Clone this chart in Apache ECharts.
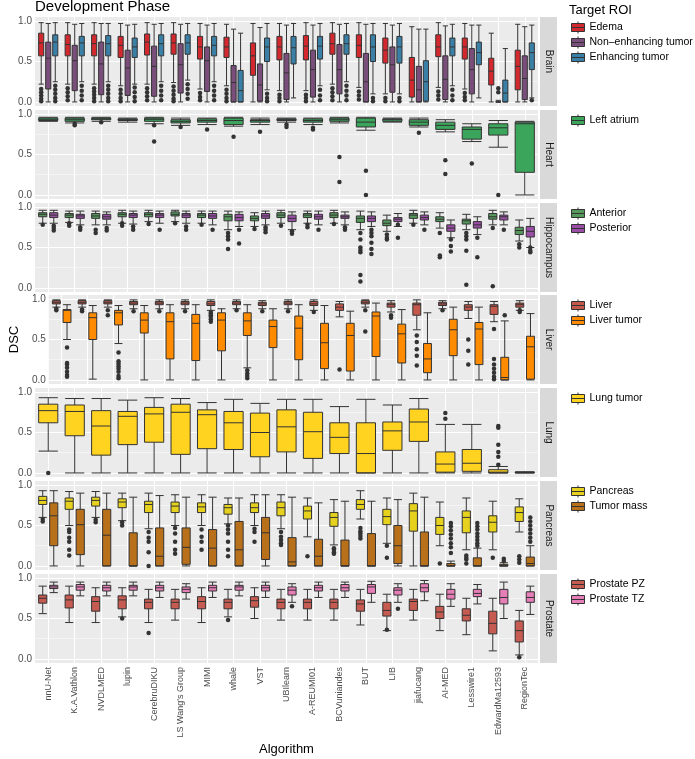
<!DOCTYPE html>
<html>
<head>
<meta charset="utf-8">
<script src="https://cdn.jsdelivr.net/npm/echarts@6/dist/echarts.min.js"></script>
<style>
  html, body { margin: 0; padding: 0; background: #fff; }
  #main { width: 695px; height: 759px; }
</style>
</head>
<body>
<div id="main"></div>
<script>
// algorithms on the x axis
const algorithms = ['nnU-Net', 'K.A.Vathlon', 'NVDLMED', 'lupin', 'CerebruDIKU', "LS Wang's Group", 'MIMI', 'whale', 'VST',
  'UBIlearn', 'A-REUMI01', 'BCVuniandes', 'BUT', 'LIB', 'jiafucang', 'AI-MED', 'Lesswire1', 'EdwardMa12593', 'RegionTec'];
const yTicks = [0, 0.5, 1];
const yMinorTicks = [0.25, 0.75];

// boxes: [lower whisker, Q1, median, Q3, upper whisker] per algorithm
// outliers: [algorithm index, value]

// Brain
const edema = [[0.22,0.57,0.73,0.85,0.98],[0.22,0.57,0.71,0.83,0.98],[0.22,0.57,0.72,0.83,0.98],[0.2,0.55,0.70,0.81,0.97],
  [0.22,0.58,0.74,0.84,0.98],[0.24,0.59,0.73,0.84,0.98],[0.16,0.53,0.68,0.81,0.97],[0.2,0.55,0.68,0.80,0.96],
  [0,0.33,0.57,0.73,0.97],[0.14,0.52,0.68,0.81,0.97],[0.14,0.52,0.69,0.82,0.98],[0.22,0.59,0.72,0.85,0.98],
  [0.18,0.55,0.70,0.83,0.98],[0.1,0.48,0.64,0.79,0.97],[0,0.06,0.27,0.55,0.93],[0.18,0.56,0.68,0.83,0.98],
  [0.16,0.53,0.68,0.79,0.97],[0,0.21,0.38,0.54,0.85],[0,0.15,0.44,0.64,0.96]];
const nonEnhancing = [[0,0.16,0.54,0.74,0.97],[0,0.14,0.51,0.70,0.96],[0,0.09,0.47,0.74,0.97],[0,0.08,0.42,0.64,0.95],
  [0,0.07,0.44,0.69,0.96],[0,0.11,0.46,0.72,0.96],[0,0.13,0.51,0.68,0.95],[0,0,0.24,0.45,0.9],
  [0,0.01,0.21,0.47,0.92],[0,0.03,0.36,0.60,0.95],[0,0.06,0.40,0.64,0.95],[0,0.10,0.40,0.71,0.96],
  [0,0,0.25,0.60,0.96],[0,0.12,0.46,0.68,0.95],[0,0,0.15,0.44,0.9],[0,0.03,0.28,0.57,0.94],
  [0,0.10,0.40,0.66,0.95],[0,0,0,0,0.02],[0,0.03,0.29,0.57,0.93]];
const enhancing = [[0.25,0.57,0.74,0.83,0.98],[0.25,0.57,0.73,0.81,0.97],[0.25,0.57,0.72,0.82,0.97],[0.22,0.55,0.68,0.79,0.96],
  [0.25,0.57,0.72,0.83,0.97],[0.27,0.59,0.73,0.83,0.97],[0.25,0.57,0.70,0.81,0.97],[0,0,0.14,0.39,0.85],
  [0.15,0.50,0.68,0.79,0.97],[0.05,0.47,0.67,0.81,0.97],[0.2,0.53,0.69,0.81,0.97],[0.25,0.59,0.72,0.83,0.97],
  [0.1,0.50,0.68,0.83,0.97],[0.1,0.48,0.68,0.81,0.97],[0,0.01,0.25,0.51,0.9],[0.2,0.57,0.68,0.79,0.96],
  [0.05,0.46,0.61,0.74,0.95],[0,0,0.11,0.27,0.66],[0.05,0.40,0.61,0.73,0.95]];
const edemaOut = [[0,0.16],[0,0.12],[0,0.08],[0,0.04],[0,0.01],[1,0.17],[1,0.12],[1,0.07],[1,0.02],[2,0.17],[2,0.13],[2,0.09],
  [2,0.05],[2,0.01],[3,0.15],[3,0.1],[3,0.05],[3,0.01],[4,0.17],[4,0.12],[4,0.07],[4,0.02],[5,0.19],[5,0.14],[5,0.09],
  [5,0.04],[5,0.01],[6,0.11],[6,0.06],[6,0.02],[7,0.15],[7,0.1],[7,0.05],[7,0.01],[9,0.09],[9,0.05],[9,0.01],[10,0.09],
  [10,0.05],[10,0.01],[11,0.17],[11,0.12],[11,0.07],[11,0.02],[12,0.13],[12,0.08],[12,0.03],[13,0.05],[13,0.01],
  [15,0.13],[15,0.08],[15,0.03],[16,0.11],[16,0.06],[16,0.02]];
const nonEnhancingOut = [[17,0.17],[17,0.12]];
const enhancingOut = [[0,0.2],[0,0.15],[0,0.1],[0,0.05],[0,0.01],[1,0.2],[1,0.14],[1,0.08],[1,0.02],[2,0.2],[2,0.15],[2,0.1],
  [2,0.05],[2,0.01],[3,0.18],[3,0.12],[3,0.06],[3,0.01],[4,0.2],[4,0.14],[4,0.08],[4,0.02],[5,0.22],[5,0.16],[5,0.1],
  [5,0.04],[6,0.2],[6,0.14],[6,0.08],[6,0.02],[8,0.1],[8,0.05],[8,0.01],[10,0.15],[10,0.08],[10,0.02],[11,0.2],[11,0.14],
  [11,0.08],[11,0.02],[12,0.05],[12,0.01],[13,0.05],[13,0.01],[15,0.15],[15,0.08],[15,0.02],[18,0.02]];

// Heart
const leftAtrium = [[0.91,0.92,0.93,0.95,0.96],[0.89,0.91,0.93,0.95,0.96],[0.91,0.93,0.94,0.95,0.96],[0.9,0.92,0.93,0.94,0.95],
  [0.88,0.91,0.935,0.95,0.96],[0.86,0.89,0.91,0.93,0.95],[0.87,0.90,0.92,0.94,0.95],[0.85,0.87,0.92,0.95,0.96],
  [0.87,0.90,0.92,0.93,0.95],[0.9,0.92,0.93,0.94,0.95],[0.87,0.90,0.92,0.94,0.95],[0.89,0.91,0.93,0.95,0.96],
  [0.8,0.84,0.90,0.95,0.96],[0.9,0.91,0.93,0.94,0.95],[0.84,0.86,0.90,0.93,0.95],[0.78,0.81,0.86,0.90,0.93],
  [0.66,0.69,0.81,0.84,0.88],[0.59,0.74,0.83,0.88,0.92],[0,0.28,0.88,0.90,0.91]];
const leftAtriumOut = [[1,0.88],[1,0.86],[2,0.9],[4,0.86],[4,0.66],[5,0.84],[6,0.81],[7,0.72],[8,0.78],[9,0.87],[9,0.84],
  [10,0.83],[10,0.81],[11,0.47],[11,0.16],[12,0.3],[12,0],[14,0.77],[15,0.43],[15,0.26],[16,0.39],[17,0]];

// Hippocampus
const anterior = [[0.8,0.88,0.91,0.93,0.96],[0.81,0.87,0.90,0.92,0.95],[0.78,0.86,0.89,0.92,0.95],[0.8,0.88,0.91,0.93,0.96],
  [0.82,0.88,0.91,0.93,0.96],[0.82,0.89,0.91,0.94,0.96],[0.8,0.87,0.90,0.92,0.95],[0.72,0.83,0.88,0.91,0.95],
  [0.76,0.83,0.86,0.89,0.93],[0.8,0.87,0.90,0.93,0.96],[0.8,0.87,0.90,0.92,0.95],[0.8,0.87,0.90,0.93,0.96],
  [0.72,0.81,0.86,0.89,0.95],[0.7,0.77,0.80,0.84,0.9],[0.8,0.86,0.90,0.92,0.96],[0.74,0.82,0.85,0.88,0.93],
  [0.72,0.79,0.83,0.85,0.91],[0.78,0.85,0.88,0.92,0.96],[0.58,0.66,0.71,0.75,0.84]];
const posterior = [[0.8,0.87,0.90,0.93,0.96],[0.78,0.86,0.89,0.91,0.95],[0.78,0.85,0.88,0.91,0.94],[0.79,0.87,0.90,0.92,0.95],
  [0.8,0.87,0.90,0.92,0.95],[0.8,0.87,0.90,0.92,0.95],[0.78,0.86,0.89,0.92,0.95],[0.76,0.83,0.87,0.91,0.94],
  [0.78,0.86,0.89,0.92,0.95],[0.72,0.82,0.86,0.90,0.94],[0.78,0.85,0.88,0.91,0.95],[0.78,0.86,0.88,0.90,0.94],
  [0.76,0.82,0.86,0.89,0.94],[0.76,0.82,0.85,0.87,0.92],[0.78,0.84,0.87,0.90,0.94],[0.62,0.70,0.74,0.78,0.84],
  [0.66,0.74,0.78,0.82,0.88],[0.78,0.84,0.88,0.90,0.94],[0.5,0.63,0.70,0.76,0.86]];
const anteriorOut = [[0,0.78],[1,0.8],[1,0.77],[2,0.72],[2,0.68],[3,0.8],[3,0.77],[4,0.79],[5,0.8],[6,0.78],[7,0.68],[7,0.64],
  [7,0.6],[7,0.48],[8,0.73],[9,0.77],[10,0.78],[10,0.75],[11,0.79],[12,0.68],[12,0.6],[12,0.5],[12,0.47],[12,0.44],
  [12,0.16],[12,0.08],[13,0.66],[13,0.62],[13,0.6],[14,0.78],[15,0.68],[15,0.4],[15,0.38],[16,0.68],[16,0.64],[16,0.6],
  [16,0.46],[16,0.04],[17,0.74],[17,0.02],[18,0.54],[18,0.5]];
const posteriorOut = [[0,0.77],[0,0.74],[0,0.71],[1,0.75],[1,0.72],[2,0.74],[2,0.71],[3,0.76],[3,0.72],[4,0.72],[5,0.76],
  [5,0.72],[6,0.72],[7,0.72],[7,0.55],[8,0.75],[8,0.72],[8,0.69],[9,0.7],[9,0.67],[10,0.72],[11,0.75],[11,0.72],[12,0.72],
  [12,0.68],[12,0.64],[12,0.56],[12,0.48],[12,0.42],[13,0.78],[13,0.62],[14,0.72],[15,0.6],[15,0.52],[15,0.45],
  [16,0.62],[16,0.38],[17,0.72],[18,0.5],[18,0.46],[18,0.44]];

// Liver
const liver = [[0.9,0.94,0.96,0.98,0.99],[0.9,0.94,0.96,0.98,0.99],[0.9,0.94,0.96,0.98,0.99],[0.88,0.93,0.95,0.97,0.99],
  [0.88,0.93,0.95,0.97,0.99],[0.88,0.93,0.95,0.97,0.99],[0.86,0.92,0.94,0.97,0.99],[0.88,0.93,0.95,0.97,0.99],
  [0.88,0.92,0.94,0.96,0.98],[0.88,0.93,0.95,0.97,0.99],[0.86,0.92,0.94,0.97,0.99],[0.78,0.86,0.90,0.94,0.97],
  [0.9,0.94,0.96,0.98,0.99],[0.84,0.90,0.93,0.95,0.98],[0.62,0.80,0.93,0.95,0.99],[0.88,0.92,0.94,0.96,0.98],
  [0.76,0.86,0.90,0.93,0.97],[0.72,0.81,0.91,0.93,0.97],[0.86,0.90,0.93,0.95,0.98]];
const liverTumor = [[0.5,0.71,0.86,0.87,0.93],[0.01,0.50,0.77,0.83,0.92],[0.45,0.68,0.83,0.86,0.92],[0,0.58,0.74,0.83,0.92],
  [0,0.26,0.72,0.83,0.93],[0,0.24,0.70,0.81,0.93],[0,0.36,0.74,0.83,0.88],[0.15,0.55,0.73,0.83,0.93],
  [0,0.40,0.66,0.74,0.88],[0,0.25,0.64,0.79,0.93],[0,0.14,0.46,0.70,0.92],[0,0.11,0.55,0.70,0.85],
  [0,0.29,0.79,0.84,0.95],[0,0.21,0.57,0.69,0.87],[0,0.09,0.26,0.45,0.83],[0,0.30,0.62,0.75,0.90],
  [0,0.19,0.63,0.71,0.90],[0,0,0.03,0.28,0.73],[0,0.01,0.41,0.54,0.82]];
const liverOut = [[0,0.88],[0,0.86],[1,0.87],[1,0.85],[2,0.86],[2,0.8],[3,0.85],[4,0.85],[5,0.85],[6,0.84],[6,0.82],[6,0.8],
  [6,0.78],[6,0.75],[6,0.72],[7,0.86],[8,0.85],[9,0.85],[10,0.84],[11,0.13],[12,0.86],[12,0.6],[13,0.8],[13,0.77],
  [14,0.55],[14,0.47],[14,0.38],[14,0.3],[14,0.18],[15,0.86],[16,0.5],[16,0.36],[16,0.19],[17,0.63],[17,0.26],[17,0.19],
  [17,0.14],[17,0.09],[17,0.04],[17,0.01],[18,0.86],[18,0.84]];
const liverTumorOut = [[0,0.4],[0,0.21],[0,0.19],[0,0.15],[0,0.1],[0,0.06],[0,0.04],[2,0.34],[2,0.23],[2,0.2],[2,0.17],
  [2,0.14],[2,0.1],[2,0.05],[2,0.02],[7,0.12],[7,0.08],[7,0.05],[7,0.02],[17,0.8]];

// Lung
const lungTumor = [[0.27,0.62,0.77,0.85,0.93],[0,0.46,0.76,0.84,0.92],[0,0.22,0.58,0.77,0.92],[0,0.35,0.70,0.76,0.90],
  [0,0.38,0.73,0.81,0.93],[0,0.23,0.75,0.85,0.92],[0,0.30,0.72,0.78,0.87],[0,0.29,0.62,0.76,0.91],
  [0,0.20,0.50,0.74,0.86],[0,0.26,0.57,0.78,0.91],[0,0.18,0.51,0.75,0.91],[0,0.24,0.44,0.62,0.82],
  [0,0,0.24,0.62,0.91],[0,0.28,0.52,0.63,0.84],[0,0.39,0.63,0.79,0.92],[0,0.01,0.11,0.26,0.6],
  [0,0.02,0.12,0.29,0.6],[0,0,0.01,0.04,0.08],[0,0,0.005,0.01,0.015]];
const lungTumorOut = [[0,0],[15,0.74],[15,0.67],[17,0.58],[17,0.56],[17,0.35],[17,0.26],[17,0.2],[17,0.1]];

// Pancreas
const pancreas = [[0.6,0.76,0.81,0.86,0.93],[0.5,0.70,0.80,0.84,0.92],[0.6,0.74,0.81,0.85,0.92],[0.56,0.72,0.79,0.83,0.9],
  [0.46,0.66,0.76,0.80,0.9],[0.5,0.66,0.74,0.79,0.88],[0.5,0.66,0.73,0.78,0.88],[0.52,0.64,0.72,0.76,0.84],
  [0.5,0.66,0.72,0.78,0.88],[0.46,0.62,0.72,0.79,0.88],[0.36,0.58,0.68,0.74,0.84],[0.26,0.49,0.60,0.66,0.82],
  [0.58,0.70,0.76,0.82,0.93],[0.28,0.51,0.61,0.70,0.84],[0,0.43,0.68,0.77,0.9],[0.25,0.39,0.50,0.60,0.79],
  [0.2,0.41,0.60,0.68,0.84],[0.2,0.42,0.54,0.62,0.8],[0.42,0.55,0.66,0.73,0.83]];
const tumorMass = [[0,0.25,0.62,0.78,0.93],[0,0.14,0.51,0.70,0.9],[0,0,0.38,0.70,0.9],[0,0,0,0.41,0.85],
  [0,0,0.12,0.47,0.87],[0,0.02,0.23,0.47,0.85],[0,0,0.22,0.45,0.85],[0,0,0.2,0.55,0.84],
  [0,0.08,0.41,0.6,0.88],[0,0,0.05,0.35,0.85],[0,0,0.12,0.33,0.78],[0,0,0,0.32,0.8],
  [0,0,0,0.4,0.8],[0,0.03,0.25,0.5,0.82],[0,0,0,0.42,0.85],[0,0,0,0.03,0.06],
  [0,0,0,0.1,0.22],[0,0,0,0.02,0.04],[0,0,0.03,0.11,0.25]];
const pancreasOut = [[0,0.58],[0,0.55],[1,0.45],[1,0.42],[1,0.35],[1,0.3],[1,0.2],[1,0.13],[2,0.57],[2,0.54],[3,0.54],[3,0.5],
  [4,0.42],[4,0.35],[4,0.3],[4,0.17],[4,0],[5,0.47],[5,0.4],[5,0.3],[5,0.2],[5,0.15],[6,0.45],[6,0.36],[6,0.3],[6,0.2],
  [7,0.5],[7,0.45],[7,0.4],[7,0.3],[7,0.2],[7,0.12],[8,0.46],[8,0.42],[8,0.3],[9,0.42],[9,0.36],[9,0.32],[9,0.28],
  [9,0.26],[10,0.12],[11,0.22],[11,0.2],[11,0.17],[11,0.15],[12,0.47],[12,0.43],[12,0.4],[12,0.37],[12,0.34],[13,0.25],
  [13,0.1],[15,0.03],[16,0.13],[16,0.1],[16,0.08],[16,0.03],[17,0.1],[18,0.12],[18,0.08],[18,0.04]];
const tumorMassOut = [[15,0.53],[15,0.49],[15,0.44],[15,0.39],[15,0.34],[15,0.28],[15,0.23],[15,0.16],[16,0.53],[16,0.49],
  [16,0.45],[16,0.4],[16,0.36],[16,0.32],[16,0.28],[16,0.25],[17,0.09],[17,0.06],[18,0.6],[18,0.55],[18,0.5],[18,0.45],
  [18,0.4],[18,0.35],[18,0.3]];

// Prostate
const prostatePZ = [[0.56,0.69,0.75,0.79,0.9],[0.45,0.63,0.73,0.79,0.9],[0.45,0.59,0.71,0.77,0.88],[0.52,0.62,0.73,0.78,0.88],
  [0.45,0.62,0.70,0.74,0.86],[0.48,0.62,0.70,0.74,0.86],[0.45,0.62,0.71,0.77,0.88],[0.52,0.62,0.70,0.74,0.86],
  [0.5,0.64,0.72,0.77,0.88],[0.48,0.62,0.70,0.74,0.86],[0.48,0.62,0.70,0.74,0.86],[0.48,0.62,0.70,0.74,0.86],
  [0.42,0.59,0.68,0.73,0.86],[0.35,0.53,0.60,0.70,0.8],[0.48,0.60,0.71,0.74,0.86],[0.35,0.50,0.58,0.65,0.8],
  [0.3,0.47,0.54,0.62,0.75],[0.1,0.31,0.44,0.59,0.75],[0.05,0.21,0.35,0.47,0.6]];
const prostateTZ = [[0.82,0.87,0.89,0.91,0.95],[0.78,0.85,0.89,0.92,0.95],[0.78,0.84,0.88,0.91,0.95],[0.78,0.85,0.89,0.91,0.95],
  [0.76,0.84,0.88,0.91,0.95],[0.74,0.82,0.86,0.89,0.93],[0.76,0.84,0.88,0.91,0.95],[0.78,0.85,0.89,0.91,0.95],
  [0.76,0.84,0.88,0.91,0.95],[0.7,0.79,0.85,0.89,0.93],[0.76,0.84,0.88,0.91,0.95],[0.76,0.84,0.88,0.92,0.95],
  [0.7,0.81,0.89,0.92,0.96],[0.7,0.79,0.85,0.88,0.93],[0.72,0.83,0.88,0.93,0.97],[0.65,0.74,0.80,0.86,0.93],
  [0.68,0.77,0.81,0.86,0.92],[0.5,0.68,0.76,0.86,0.95],[0.55,0.70,0.76,0.83,0.9]];
const prostatePZOut = [[3,0.5],[4,0.32],[7,0.48],[13,0.36],[18,0.02]];
const prostateTZOut = [[9,0.65],[13,0.62]];

// facets
const panels = [
  { strip: 'Brain', rois: [['Edema', edema, edemaOut, '#D3292E'], ['Non\u2013enhancing tumor', nonEnhancing, nonEnhancingOut, '#7A4E7A'], ['Enhancing tumor', enhancing, enhancingOut, '#3A80A6']] },
  { strip: 'Heart', rois: [['Left atrium', leftAtrium, leftAtriumOut, '#3BA55C']] },
  { strip: 'Hippocampus', rois: [['Anterior', anterior, anteriorOut, '#55985C'], ['Posterior', posterior, posteriorOut, '#9A4EA6']] },
  { strip: 'Liver', rois: [['Liver', liver, liverOut, '#C4594B'], ['Liver tumor', liverTumor, liverTumorOut, '#FF8C00']] },
  { strip: 'Lung', rois: [['Lung tumor', lungTumor, lungTumorOut, '#FFD320']] },
  { strip: 'Pancreas', rois: [['Pancreas', pancreas, pancreasOut, '#E6D21E'], ['Tumor mass', tumorMass, tumorMassOut, '#B8711A']] },
  { strip: 'Prostate', rois: [['Prostate PZ', prostatePZ, prostatePZOut, '#C65B52'], ['Prostate TZ', prostateTZ, prostateTZOut, '#E67EB8']] }
];

const top0 = 17, step = 92.8, panelH = 89, gLeft = 35, gRight = 157;
const bandW = (695 - gLeft - gRight) / algorithms.length;
const keyIcon = 'path://M0,2L13,2L13,10L0,10Z M0,6L13,6 M6.5,0L6.5,2 M6.5,10L6.5,12';
const font = 'Liberation Sans, Arial, sans-serif';

// same dodge as echarts boxplot layout, in category units
function dodge(k, n) {
  const avail = bandW * 0.8 - 2;
  const gap = avail / n * 0.3;
  const bw = (avail - gap * (n - 1)) / n;
  return (bw / 2 - avail / 2 + k * (gap + bw)) / bandW;
}

const grid = [], xAxis = [], yAxis = [], series = [], legend = [], graphic = [];
panels.forEach(function (p, i) {
  const top = Math.round(top0 + i * step);
  const last = i === panels.length - 1;
  grid.push({ left: gLeft, right: gRight, top: top, height: panelH, show: true, backgroundColor: '#EBEBEB', borderWidth: 0 });
  xAxis.push({
    type: 'category', gridIndex: i, data: algorithms,
    axisLine: { show: false },
    axisTick: { show: last, alignWithLabel: true, length: 3, lineStyle: { color: '#333' } },
    axisLabel: { show: last, rotate: 90, fontSize: 9, color: '#4D4D4D', margin: 4 },
    splitLine: { show: false },
    name: last ? 'Algorithm' : '', nameLocation: 'middle', nameGap: 80,
    nameTextStyle: { fontSize: 13, color: '#000' }
  });
  xAxis.push({ type: 'value', gridIndex: i, min: -0.5, max: algorithms.length - 0.5, show: false });
  yAxis.push({
    type: 'value', gridIndex: i, min: -0.05, max: 1.05,
    axisLine: { show: false },
    axisTick: { show: true, length: 3, customValues: yTicks, lineStyle: { color: '#333' } },
    axisLabel: { customValues: yTicks, formatter: function (v) { return v.toFixed(1); }, fontSize: 10, color: '#4D4D4D', margin: 3 },
    splitLine: { show: false },
    name: i === 3 ? 'DSC' : '', nameLocation: 'middle', nameGap: 24, nameRotate: 90,
    nameTextStyle: { fontSize: 13, color: '#000' }
  });
  // panel grid lines
  series.push({
    type: 'scatter', xAxisIndex: 2 * i + 1, yAxisIndex: i, data: [], silent: true,
    markLine: {
      silent: true, symbol: 'none', animation: false, z: 1,
      label: { show: false }, emphasis: { disabled: true },
      lineStyle: { color: '#fff', type: 'solid', width: 1.1 },
      data: yTicks.map(v => ({ yAxis: v }))
        .concat(yMinorTicks.map(v => ({ yAxis: v, lineStyle: { width: 0.5 } })))
        .concat(algorithms.map((a, j) => ({ xAxis: j })))
    }
  });
  const n = p.rois.length;
  p.rois.forEach(function (r, k) {
    series.push({
      name: r[0], type: 'boxplot', xAxisIndex: 2 * i, yAxisIndex: i, data: r[1], z: 3,
      boxWidth: [3, 50], animation: false,
      itemStyle: { color: r[3], borderColor: '#333', borderWidth: 1 },
      emphasis: { disabled: true }
    });
    series.push({
      name: r[0], type: 'scatter', xAxisIndex: 2 * i + 1, yAxisIndex: i, z: 4, animation: false,
      data: r[2].map(d => [d[0] + dodge(k, n), d[1]]),
      symbolSize: 4.5, itemStyle: { color: '#333', opacity: 1 }, emphasis: { disabled: true }
    });
  });
  legend.push({
    orient: 'vertical', left: 571, top: top + 4, padding: 0, selectedMode: false,
    itemWidth: 13, itemHeight: 12, itemGap: 2,
    textStyle: { fontSize: 10.5, color: '#000' },
    data: p.rois.map(r => ({ name: r[0], icon: keyIcon, itemStyle: { color: r[3], borderColor: '#333', borderWidth: 1 } }))
  });
  graphic.push({ type: 'rect', shape: { x: 540, y: top, width: 17, height: panelH }, style: { fill: '#D9D9D9' }, silent: true });
  graphic.push({
    type: 'text', x: 548.5, y: top + panelH / 2, rotation: -Math.PI / 2, silent: true,
    style: { text: p.strip, fill: '#1A1A1A', fontSize: 10, align: 'center', verticalAlign: 'middle', fontFamily: font }
  });
});

const chart = echarts.init(document.getElementById('main'));
chart.setOption({
  animation: false,
  textStyle: { fontFamily: font },
  title: [
    { text: 'Development Phase', left: 35, top: -1, padding: 0, textStyle: { fontSize: 15, fontWeight: 'normal', color: '#000' } },
    { text: 'Target ROI', left: 569, top: 4, padding: 0, textStyle: { fontSize: 13, fontWeight: 'normal', color: '#000' } }
  ],
  grid: grid,
  xAxis: xAxis,
  yAxis: yAxis,
  legend: legend,
  graphic: graphic,
  series: series
});
</script>
</body>
</html>
